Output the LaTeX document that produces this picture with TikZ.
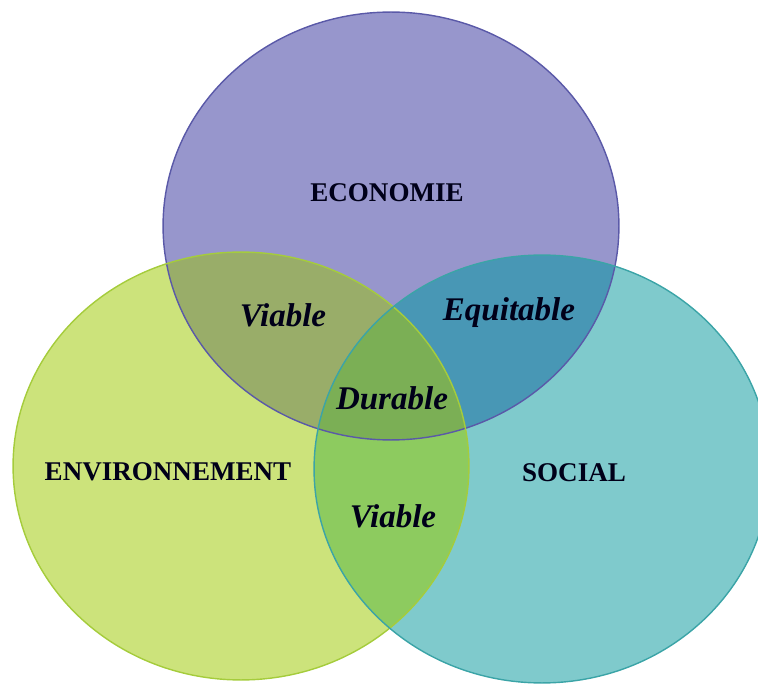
\documentclass[tikz,border=0pt]{standalone}
\usepackage{fontspec}
\setmainfont{Liberation Serif}
\usepackage{xcolor}
\usetikzlibrary{positioning}

\definecolor{ecofill}{HTML}{9796CC}
\definecolor{ecoline}{HTML}{5A59A8}
\definecolor{envfill}{HTML}{CCE37B}
\definecolor{envline}{HTML}{A5CC3C}
\definecolor{socfill}{HTML}{7FCACC}
\definecolor{socline}{HTML}{3BA4A7}
\definecolor{ecoenv}{HTML}{99AD69}
\definecolor{ecosoc}{HTML}{4897B5}
\definecolor{envsoc}{HTML}{8DCB5F}
\definecolor{allthree}{HTML}{7BAF55}

\begin{document}
\begin{tikzpicture}[x=0.02cm, y=0.02cm,
    pillar/.style={font=\fontsize{15.4}{18}\selectfont\bfseries, text=black!90!blue},
    quality/.style={font=\fontsize{18.8}{22}\selectfont\bfseries\itshape, text=black!90!blue}]
    \useasboundingbox (0,0) rectangle (758,684);

    % The three pillars
    \def\eco{(391,458) ellipse [x radius=4.56cm, y radius=4.28cm]}
    \def\env{(241,218) ellipse [x radius=4.56cm, y radius=4.28cm]}
    \def\soc{(542,215) ellipse [x radius=4.56cm, y radius=4.28cm]}

    \fill[ecofill] \eco;
    \fill[envfill] \env;
    \fill[socfill] \soc;

    % Pairwise overlaps
    \begin{scope}
        \clip \eco;
        \fill[ecoenv] \env;
        \fill[ecosoc] \soc;
    \end{scope}
    \begin{scope}
        \clip \env;
        \fill[envsoc] \soc;
    \end{scope}

    % Centre
    \begin{scope}
        \clip \eco;
        \clip \env;
        \fill[allthree] \soc;
    \end{scope}

    % Outlines
    \draw[ecoline, line width=0.8pt] \eco;
    \draw[envline, line width=0.8pt] \env;
    \draw[socline, line width=0.8pt] \soc;

    % Labels
    \node[pillar] (economie) at (387,491) {ECONOMIE};
    \node[pillar] (environnement) at (168,212) {ENVIRONNEMENT};
    \node[pillar] (social) at (574,211) {SOCIAL};

    \node[quality] (viabletop) at (283,369) {Viable};
    \node[quality] (equitable) at (509,371) {Equitable};
    \node[quality] (durable) at (392,286) {Durable};
    \node[quality] (viablebot) at (393,168) {Viable};
\end{tikzpicture}
\end{document}
